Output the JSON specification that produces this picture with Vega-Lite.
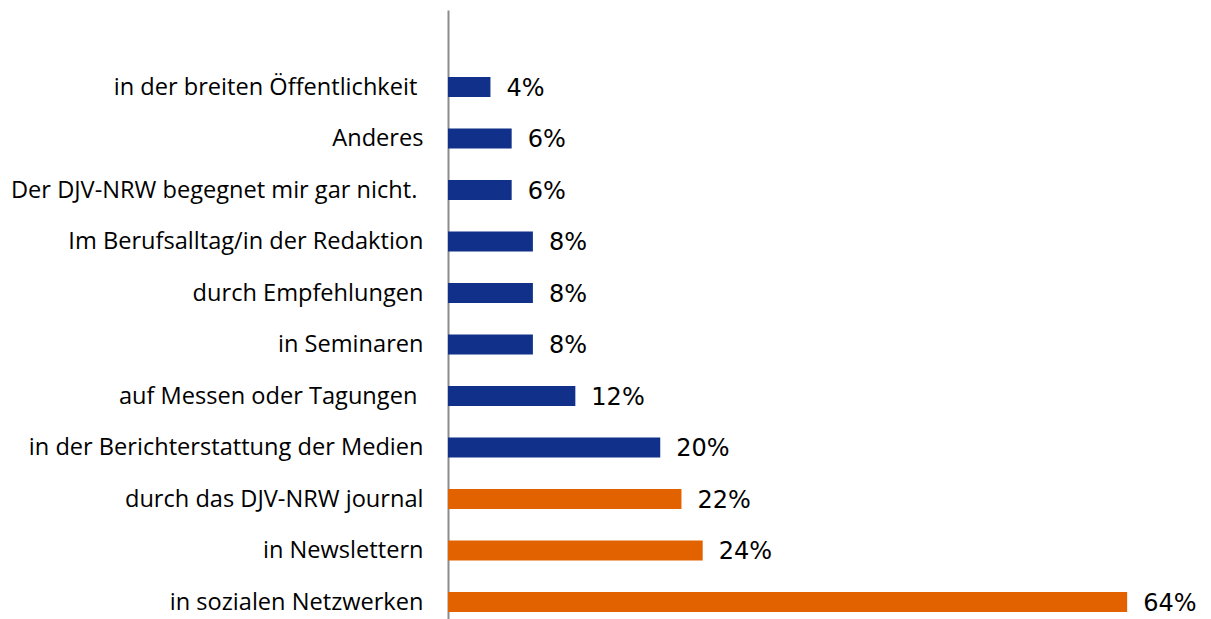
{
  "$schema": "https://vega.github.io/schema/vega-lite/v6.json",
  "autosize": "none",
  "padding": {"left": 448, "top": 10, "right": 0, "bottom": 0},
  "width": 763,
  "height": 609,
  "background": "white",
  "config": {"view": {"stroke": null}},
  "data": {"values": [
    {"cat": "in der breiten Öffentlichkeit ", "value": 4, "group": "a"},
    {"cat": "Anderes", "value": 6, "group": "a"},
    {"cat": "Der DJV-NRW begegnet mir gar nicht. ", "value": 6, "group": "a"},
    {"cat": "Im Berufsalltag/in der Redaktion", "value": 8, "group": "a"},
    {"cat": "durch Empfehlungen", "value": 8, "group": "a"},
    {"cat": "in Seminaren", "value": 8, "group": "a"},
    {"cat": "auf Messen oder Tagungen ", "value": 12, "group": "a"},
    {"cat": "in der Berichterstattung der Medien", "value": 20, "group": "a"},
    {"cat": "durch das DJV-NRW journal", "value": 22, "group": "b"},
    {"cat": "in Newslettern", "value": 24, "group": "b"},
    {"cat": "in sozialen Netzwerken", "value": 64, "group": "b"}
  ]},
  "transform": [{"calculate": "datum.value + '%'", "as": "label"}],
  "encoding": {
    "y": {
      "field": "cat", "type": "nominal", "sort": null,
      "scale": {"paddingInner": 0.612, "paddingOuter": 0.7186, "align": 0.905},
      "axis": {
        "title": null, "ticks": false, "labelPadding": 25,
        "labelFont": "Open Sans", "labelFontSize": 23.6, "labelColor": "#000000",
        "labelLimit": 500, "labelOffset": 1,
        "labelExpr": "slice(datum.value, -1) === ' ' ? slice(datum.value, 0, -1) + '\u00a0\u200b' : datum.value",
        "domainColor": "#8c8c8c", "domainWidth": 2
      }
    },
    "x": {
      "field": "value", "type": "quantitative",
      "scale": {"domain": [0, 71.9], "nice": false, "zero": true},
      "axis": null
    }
  },
  "layer": [
    {
      "mark": {"type": "bar"},
      "encoding": {
        "color": {
          "field": "group", "type": "nominal",
          "scale": {"domain": ["a", "b"], "range": ["#10308A", "#E36200"]},
          "legend": null
        }
      }
    },
    {
      "mark": {"type": "text", "align": "left", "baseline": "middle", "dx": 16, "dy": 2, "font": "DejaVu Sans", "fontSize": 24, "color": "#000000"},
      "encoding": {"text": {"field": "label"}}
    }
  ]
}
